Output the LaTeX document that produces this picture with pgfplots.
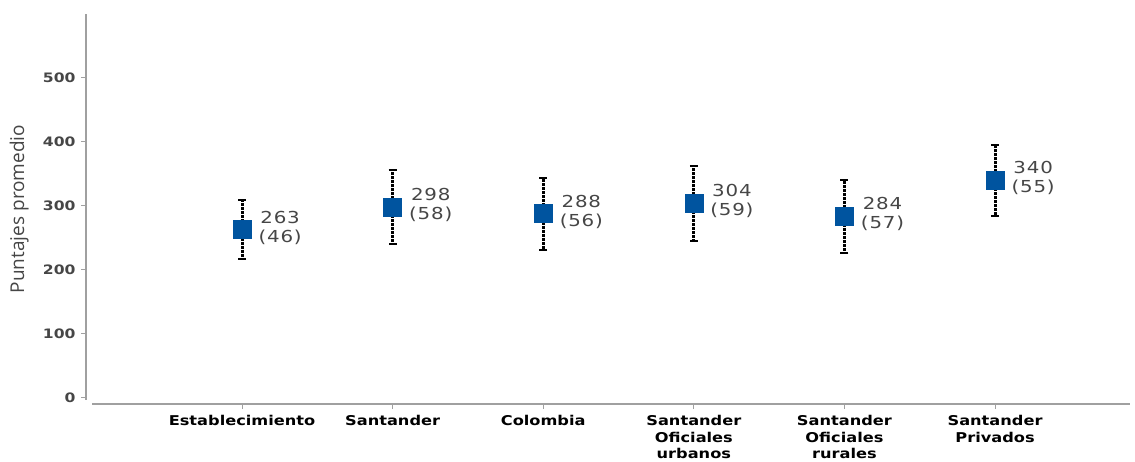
\documentclass[border=0pt]{standalone}
\usepackage{fontspec}
\setmainfont{DejaVu Sans}[FakeStretch=1.2]
\newfontfamily\labfont{Open Sans}
\newfontfamily\valfont{DejaVu Sans}[FakeStretch=1.2, LetterSpace=5]
\usepackage{pgfplots}
\usepackage{pgfplotstable}
\pgfplotsset{compat=1.18}
\definecolor{mk}{RGB}{0,84,159}
\definecolor{tk}{RGB}{70,70,70}
\definecolor{axc}{RGB}{160,160,160}
\pgfplotstableread{
x y e
0 263 46
1 298 58
2 288 56
3 304 59
4 284 57
5 340 55
}\data
\begin{document}
\begin{tikzpicture}
\path[use as bounding box] (-86pt,-57pt) rectangle (1049pt,404pt);
\begin{axis}[
  scale only axis, width=1044pt, height=390pt,
  xmin=-1.036, xmax=5.896, ymin=-9.4, ymax=600,
  clip=false,
  axis line style={draw=none},
  xtick pos=bottom, ytick pos=left,
  tick align=outside,
  major tick length=5pt,
  tick style={axc, line width=1pt},
  ytick={0,100,200,300,400,500},
  xtick={0,1,2,3,4,5},
  xticklabels={Establecimiento,Santander,Colombia,{Santander\\Oficiales\\urbanos},{Santander\\Oficiales\\rurales},{Santander\\Privados}},
  xticklabel style={align=center, font=\bfseries\fontsize{13.5}{16.5}\selectfont, text=black, yshift=-3pt},
  yticklabel style={font=\bfseries\fontsize{13}{15}\selectfont, text=tk, xshift=-2pt},
  /pgf/number format/assume math mode=true,
  ylabel={Puntajes promedio},
  ylabel style={at={(axis description cs:-0.064,0.5)}, anchor=center, font=\labfont\fontsize{19}{22}\selectfont, text=tk},
]
\draw[axc, line width=1.2pt] (axis cs:-1.036,-3) -- (axis cs:-1.036,600);
\draw[axc, line width=1.2pt] (axis cs:-0.996,-9.4) -- (axis cs:5.896,-9.4);
\addplot[only marks, mark=square*, mark size=9pt, mark options={fill=mk, draw=mk},
  error bars/.cd, y dir=both, y explicit,
  error bar style={black, line width=3pt, dash pattern=on 3pt off 1pt},
  error mark options={black, rotate=90, mark size=4pt, line width=2pt, solid}]
  table[x=x, y=y, y error=e] {\data};
\addplot[only marks, mark=none, point meta=y,
  visualization depends on={\thisrow{e}\as\sd},
  nodes near coords={\pgfmathprintnumber{\pgfplotspointmeta}\\(\pgfmathprintnumber{\sd})},
  every node near coord/.append style={anchor=west, align=center, xshift=13pt, yshift=2pt, font=\valfont\fontsize{16.5}{19}\selectfont, text=tk}]
  table[x=x, y=y] {\data};
\end{axis}
\end{tikzpicture}
\end{document}
